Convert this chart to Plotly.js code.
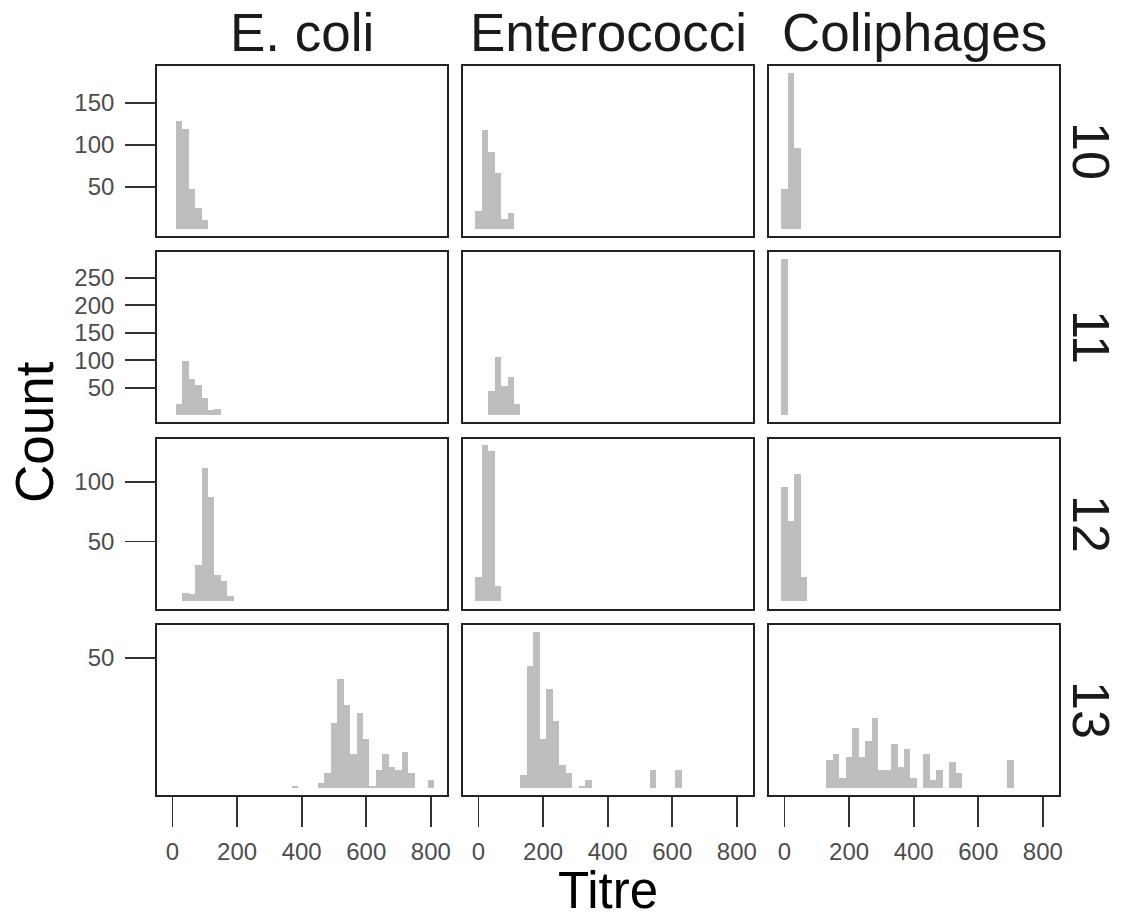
<!DOCTYPE html>
<html>
<head>
<meta charset="utf-8">
<script src="https://cdn.plot.ly/plotly-3.0.1.min.js"></script>
<style>html,body{margin:0;padding:0;background:#fff;}</style>
</head>
<body>
<div id="chart" style="width:1122px;height:917px;"></div>
<script>
// Column (organism) and row (group) labels
const organisms = ["E. coli", "Enterococci", "Coliphages"];
const groups = ["10", "11", "12", "13"];
const xTicks = [0, 200, 400, 600, 800];
const binWidth = 20;

// Bin centres (Titre) and counts for each panel
const ecoli10_x = [20, 40, 60, 80, 100];
const ecoli10_y = [128, 119, 48, 25, 11];
const entero10_x = [0, 20, 40, 60, 80, 100];
const entero10_y = [22, 118, 92, 67, 12, 19];
const coli10_x = [0, 20, 40];
const coli10_y = [48, 186, 97];

const ecoli11_x = [20, 40, 60, 80, 100, 120, 140];
const ecoli11_y = [20, 98, 66, 54, 32, 10, 12];
const entero11_x = [40, 60, 80, 100, 120];
const entero11_y = [44, 106, 53, 70, 20];
const coli11_x = [0];
const coli11_y = [285];

const ecoli12_x = [40, 60, 80, 100, 120, 140, 160, 180];
const ecoli12_y = [7, 6, 30, 112, 87, 22, 17, 4];
const entero12_x = [0, 20, 40, 60];
const entero12_y = [20, 131, 126, 13];
const coli12_x = [0, 20, 40, 60];
const coli12_y = [96, 67, 107, 20];

const ecoli13_x = [380, 460, 480, 500, 520, 540, 560, 580, 600, 620, 640, 660, 680, 700, 720, 740, 800];
const ecoli13_y = [1, 2, 6, 25, 42, 32, 13, 29, 19, 1, 7, 13, 8, 7, 14, 6, 3];
const entero13_x = [140, 160, 180, 200, 220, 240, 260, 280, 320, 340, 540, 620];
const entero13_y = [5, 47, 60, 19, 38, 26, 9, 6, 1, 3, 7, 7];
const coli13_x = [140, 160, 180, 200, 220, 240, 260, 280, 300, 320, 340, 360, 380, 400, 440, 460, 480, 520, 540, 700];
const coli13_y = [11, 13, 4, 12, 23, 12, 18, 27, 7, 7, 17, 8, 15, 4, 13, 3, 7, 10, 6, 11];

// Y ticks per row
const yTicks = [[50, 100, 150], [50, 100, 150, 200, 250], [50, 100], [50]];

const panels = [
  [[ecoli10_x, ecoli10_y], [entero10_x, entero10_y], [coli10_x, coli10_y]],
  [[ecoli11_x, ecoli11_y], [entero11_x, entero11_y], [coli11_x, coli11_y]],
  [[ecoli12_x, ecoli12_y], [entero12_x, entero12_y], [coli12_x, coli12_y]],
  [[ecoli13_x, ecoli13_y], [entero13_x, entero13_y], [coli13_x, coli13_y]]
];

// Layout geometry (pixels)
const W = 1122, H = 917;
const colPx = [[157, 447], [463, 753], [769, 1059]];
const rowPx = [[66, 236], [252, 422], [439, 609], [625, 795]];
const yRanges = [[-8.3, 194], [-12.5, 297], [-6.5, 136], [-2.6, 62.7]];
const xRange = [-48, 850];

const FONT = "Liberation Sans, Arial, Helvetica, sans-serif";
const data = [];
const layout = {
  width: W, height: H,
  margin: {l: 0, r: 0, t: 0, b: 0, pad: 0},
  paper_bgcolor: "#ffffff", plot_bgcolor: "#ffffff",
  showlegend: false,
  bargap: 0,
  font: {family: FONT, color: "#000"},
  annotations: []
};

for (let r = 0; r < 4; r++) {
  for (let c = 0; c < 3; c++) {
    const i = r * 3 + c + 1;
    const xa = i === 1 ? "x" : "x" + i;
    const ya = i === 1 ? "y" : "y" + i;
    const [px, py] = panels[r][c];
    data.push({
      type: "bar", x: px, y: py, width: binWidth,
      xaxis: xa, yaxis: ya,
      marker: {color: "#bebebe", line: {color: "#bebebe", width: 0}},
      hoverinfo: "x+y"
    });
    const bottomRow = r === 3, leftCol = c === 0;
    layout["xaxis" + (i === 1 ? "" : i)] = {
      domain: [colPx[c][0] / W, colPx[c][1] / W],
      anchor: ya, range: xRange, fixedrange: true,
      showgrid: false, zeroline: false,
      showline: true, mirror: true, linecolor: "#222222", linewidth: 1.8,
      tickmode: "array", tickvals: xTicks,
      ticks: bottomRow ? "outside" : "", ticklen: 30, tickwidth: 1.8, tickcolor: "#333333",
      ticklabelstandoff: 4,
      showticklabels: bottomRow,
      tickfont: {family: FONT, size: 24, color: "#4d4d4d"}
    };
    layout["yaxis" + (i === 1 ? "" : i)] = {
      domain: [1 - rowPx[r][1] / H, 1 - rowPx[r][0] / H],
      anchor: xa, range: yRanges[r], fixedrange: true,
      showgrid: false, zeroline: false,
      showline: true, mirror: true, linecolor: "#222222", linewidth: 1.8,
      tickmode: "array", tickvals: yTicks[r],
      ticks: leftCol ? "outside" : "", ticklen: 30, tickwidth: 1.8, tickcolor: "#333333",
      ticklabelstandoff: 6,
      showticklabels: leftCol,
      tickfont: {family: FONT, size: 24, color: "#4d4d4d"}
    };
  }
}

// Strip labels
organisms.forEach((t, c) => {
  layout.annotations.push({
    text: t, xref: "paper", yref: "paper",
    x: (colPx[c][0] + colPx[c][1]) / 2 / W, y: 1 - 33 / H,
    xanchor: "center", yanchor: "middle", showarrow: false,
    font: {family: FONT, size: 53, color: "#1a1a1a"}
  });
});
groups.forEach((t, r) => {
  layout.annotations.push({
    text: t, xref: "paper", yref: "paper",
    x: 1091 / W, y: 1 - (rowPx[r][0] + rowPx[r][1]) / 2 / H,
    xanchor: "center", yanchor: "middle", showarrow: false, textangle: 90,
    font: {family: FONT, size: 52, color: "#1a1a1a"}
  });
});
// Axis titles
layout.annotations.push({
  text: "Count", xref: "paper", yref: "paper",
  x: 35 / W, y: 1 - 432 / H, xanchor: "center", yanchor: "middle",
  showarrow: false, textangle: -90,
  font: {family: FONT, size: 53, color: "#000"}
});
layout.annotations.push({
  text: "Titre", xref: "paper", yref: "paper",
  x: 608 / W, y: 1 - 890 / H, xanchor: "center", yanchor: "middle",
  showarrow: false, borderpad: 0,
  font: {family: FONT, size: 51, color: "#000"}
});

Plotly.newPlot("chart", data, layout, {displayModeBar: false, staticPlot: true});
</script>
</body>
</html>
